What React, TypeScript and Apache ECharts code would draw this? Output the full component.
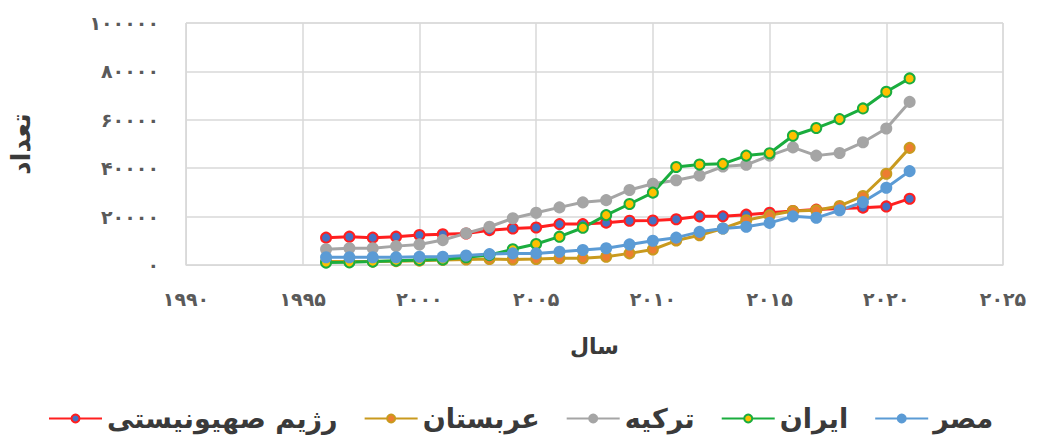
import React, { useEffect, useRef } from "react";
import * as echarts from "echarts";

const years = [1996, 1997, 1998, 1999, 2000, 2001, 2002, 2003, 2004, 2005, 2006, 2007, 2008, 2009, 2010, 2011, 2012, 2013, 2014, 2015, 2016, 2017, 2018, 2019, 2020, 2021];

const israel = [11300, 11700, 11300, 11700, 12400, 12700, 13000, 14400, 15100, 15500, 16900, 16900, 17500, 18300, 18400, 18900, 20100, 20100, 20800, 21600, 22300, 22900, 23300, 23700, 24200, 27400];
const saudi = [1400, 1400, 1400, 1600, 1800, 2100, 2300, 2500, 2300, 2500, 2800, 2800, 3400, 4800, 6400, 10100, 12300, 15100, 18500, 20500, 22300, 22600, 24400, 28500, 37700, 48400];
const turkey = [6500, 6900, 6900, 7800, 8500, 10300, 13100, 15800, 19300, 21600, 23800, 25900, 26800, 31000, 33600, 35000, 37000, 40700, 41400, 45200, 48600, 45200, 46300, 50700, 56400, 67400];
const iran = [1000, 1100, 1400, 1800, 2100, 2300, 3200, 4100, 6500, 8700, 11700, 15400, 20600, 25200, 29900, 40500, 41500, 41800, 45200, 46200, 53400, 56600, 60300, 64700, 71600, 77100];
const egypt = [3200, 3200, 3200, 3200, 3400, 3400, 3900, 4500, 4800, 4800, 5500, 6200, 6900, 8500, 10000, 11300, 13700, 15100, 15800, 17400, 20100, 19500, 22600, 26000, 31900, 38800];

const seriesNames = ["رژیم صهیونیستی", "عربستان", "ترکیه", "ایران", "مصر"];
const xTitle = "سال";
const yTitle = "تعداد";

const toFa = (v: number | string) =>
  String(v).replace(/[0-9]/g, (d) => "۰۱۲۳۴۵۶۷۸۹"[Number(d)]);

const pair = (vals: number[]) => years.map((y, i) => [y, vals[i]]);

export default function App() {
  const ref = useRef<HTMLDivElement>(null);
  useEffect(() => {
    document.body.style.margin = "0";
    const chart = echarts.init(ref.current!, undefined, { renderer: "svg" });
    const font = "DejaVu Sans";
    const mk = (name: string, vals: number[], line: string, fill: string, border: string) => ({
      name,
      type: "line",
      data: pair(vals),
      symbol: "circle",
      symbolSize: 10,
      lineStyle: { color: line, width: 3 },
      itemStyle: { color: fill, borderColor: border, borderWidth: 2 },
    });
    chart.setOption({
      animation: false,
      backgroundColor: "#ffffff",
      textStyle: { fontFamily: font },
      grid: { left: 182, right: 35, top: 23, bottom: 175, show: true, borderColor: "#d9d9d9", borderWidth: 1 },
      legend: {
        data: seriesNames,
        left: 43,
        top: 400,
        itemWidth: 53,
        itemHeight: 10,
        itemGap: 26,
        textStyle: { fontFamily: font, fontWeight: "bold", fontSize: 27, color: "#3a3a3a", padding: [0, 0, 0, 0] },
      },
      xAxis: {
        type: "value",
        min: 1990,
        max: 2025,
        interval: 5,
        name: xTitle,
        nameLocation: "middle",
        nameGap: 70,
        nameTextStyle: { fontFamily: font, fontWeight: "bold", fontSize: 22, color: "#3a3a3a" },
        axisLine: { show: true, lineStyle: { color: "#d9d9d9" } },
        axisTick: { show: false },
        splitLine: { show: true, lineStyle: { color: "#d9d9d9", width: 1.5 } },
        axisLabel: { formatter: (v: number) => toFa(v), fontSize: 19, fontWeight: "bold", color: "#5a5a5a", margin: 24, fontFamily: font },
      },
      yAxis: {
        type: "value",
        min: 0,
        max: 100000,
        interval: 20000,
        name: yTitle,
        nameLocation: "middle",
        nameGap: 152,
        nameRotate: 90,
        nameTextStyle: { fontFamily: font, fontWeight: "bold", fontSize: 26, color: "#3a3a3a" },
        axisLine: { show: true, lineStyle: { color: "#d9d9d9" } },
        axisTick: { show: false },
        splitLine: { show: true, lineStyle: { color: "#d9d9d9", width: 1.5 } },
        axisLabel: { formatter: (v: number) => toFa(v), fontSize: 19, fontWeight: "bold", color: "#5a5a5a", margin: 27, fontFamily: font },
      },
      series: [
        mk(seriesNames[0], israel, "#ff1f1f", "#4472c4", "#ff1f1f"),
        mk(seriesNames[1], saudi, "#c99a1e", "#ed7d31", "#c99a1e"),
        mk(seriesNames[2], turkey, "#a5a5a5", "#a5a5a5", "#a5a5a5"),
        mk(seriesNames[3], iran, "#1aad3e", "#ffc000", "#1aad3e"),
        mk(seriesNames[4], egypt, "#5b9bd5", "#5b9bd5", "#5b9bd5"),
      ],
    });
    return () => chart.dispose();
  }, []);
  return <div ref={ref} style={{ width: 1038, height: 440 }} />;
}
